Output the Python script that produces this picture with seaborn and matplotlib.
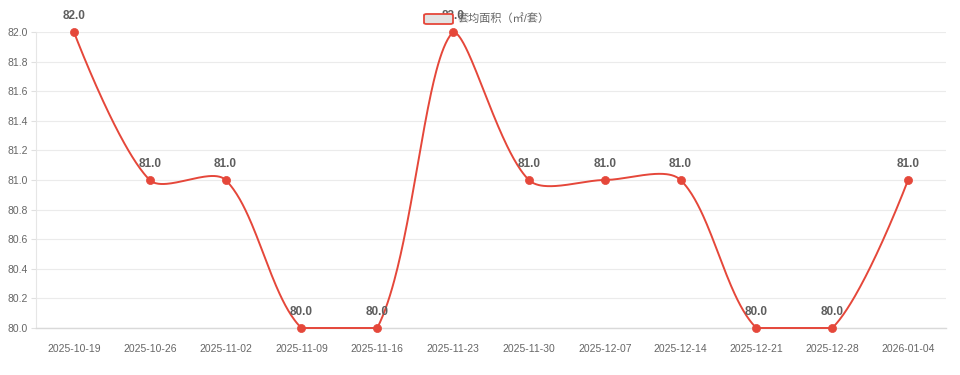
import numpy as np
import pandas as pd
import matplotlib
matplotlib.use("Agg")
import matplotlib.pyplot as plt
from matplotlib.patches import FancyBboxPatch
import seaborn as sns

dates = ["2025-10-19", "2025-10-26", "2025-11-02", "2025-11-09", "2025-11-16", "2025-11-23",
         "2025-11-30", "2025-12-07", "2025-12-14", "2025-12-21", "2025-12-28", "2026-01-04"]
values = [82.0, 81.0, 81.0, 80.0, 80.0, 82.0, 81.0, 81.0, 81.0, 80.0, 80.0, 81.0]
series_name = "套均面积（㎡/套）"
y_ticks = [80.0, 80.2, 80.4, 80.6, 80.8, 81.0, 81.2, 81.4, 81.6, 81.8, 82.0]

RED = "#e5473a"
GRAY = "#666666"

sns.set_theme(style="white")
plt.rcParams['font.family'] = ['Liberation Sans', 'Noto Sans CJK SC', 'DejaVu Sans']

W, H = 960, 375
fig = plt.figure(figsize=(W / 100, H / 100), dpi=100)
L, R, T, B = 36, 946, 32, 328
ax = fig.add_axes([L / W, 1 - B / H, (R - L) / W, (B - T) / H])

df = pd.DataFrame({"date": dates, "value": values})
n = len(dates)
ax.set_xlim(-0.5, n - 0.5)
ax.set_ylim(80.0, 82.0)


def smooth_bezier(px, py, smooth=0.3):
    """Bezier control points with a bounding-box constraint (pixel space)."""
    pts = np.column_stack([px, py]).astype(float)
    mn = pts.min(axis=0)
    mx = pts.max(axis=0)
    m = len(pts)
    cps = []
    for i in range(m):
        p = pts[i]
        if i == 0 or i == m - 1:
            cps.append(p.copy())
            continue
        prev = pts[i - 1]
        nxt = pts[i + 1]
        v = (nxt - prev) * smooth
        d0 = np.hypot(*(p - prev))
        d1 = np.hypot(*(p - nxt))
        s = d0 + d1
        if s != 0:
            d0 /= s
            d1 /= s
        cps.append(np.clip(p - v * d0, mn, mx))
        cps.append(np.clip(p + v * d1, mn, mx))
    xs, ys = [], []
    t = np.linspace(0, 1, 80)
    for i in range(m - 1):
        p0 = pts[i]
        a = cps[2 * i]
        b = cps[2 * i + 1]
        p1 = pts[i + 1]
        bx = (1 - t) ** 3 * p0[0] + 3 * (1 - t) ** 2 * t * a[0] + 3 * (1 - t) * t ** 2 * b[0] + t ** 3 * p1[0]
        by = (1 - t) ** 3 * p0[1] + 3 * (1 - t) ** 2 * t * a[1] + 3 * (1 - t) * t ** 2 * b[1] + t ** 3 * p1[1]
        xs.append(bx)
        ys.append(by)
    return np.concatenate(xs), np.concatenate(ys)


xpos = np.arange(n)
disp = ax.transData.transform(np.column_stack([xpos, values]))
sx, sy = smooth_bezier(disp[:, 0], disp[:, 1], 0.3)
back = ax.transData.inverted().transform(np.column_stack([sx, sy]))
ax.plot(back[:, 0], back[:, 1], color=RED, lw=1.4, zorder=3, solid_capstyle="round",
        clip_on=False)

sns.scatterplot(x=xpos, y=df["value"], ax=ax, color=RED, s=34, edgecolor=RED,
                linewidth=0.5, zorder=4, legend=False, clip_on=False)

for xi, v in zip(xpos, values):
    ax.annotate(f"{v:.1f}", (xi, v), xytext=(0, 7.5), textcoords="offset points",
                ha="center", va="bottom", fontsize=8.5, fontweight="bold", color="#5e5e5e", zorder=5)

ax.set_xticks(xpos)
ax.set_xticklabels(dates)
ax.set_yticks(y_ticks)
ax.set_yticklabels([f"{t:.1f}" for t in y_ticks])
ax.tick_params(axis="x", length=0, pad=11.5, labelsize=7.5, labelcolor=GRAY)
ax.tick_params(axis="y", length=3.6, width=0.8, color="#e0e0e0", pad=2.2, labelsize=7.5,
               labelcolor=GRAY, left=True)
ax.grid(axis="y", color="#ebebeb", lw=0.8)
ax.set_axisbelow(True)
for s in ["top", "right"]:
    ax.spines[s].set_visible(False)
ax.spines["left"].set_color("#e6e6e6")
ax.spines["left"].set_linewidth(0.8)
ax.spines["bottom"].set_color("#d9d9d9")
ax.spines["bottom"].set_linewidth(1.0)
ax.set_xlabel("")
ax.set_ylabel("")

# legend (ECharts style)
icon = FancyBboxPatch((424 / W, 1 - 24 / H), 29 / W, 10 / H,
                      boxstyle="round,pad=0,rounding_size=0.003",
                      transform=fig.transFigure, facecolor="#e3e3e3", edgecolor=RED, lw=1.3,
                      zorder=1)
fig.add_artist(icon)
fig.text(458 / W, 1 - 19 / H, series_name, ha="left", va="center", fontsize=8, color=GRAY)

fig.savefig("out.png", dpi=100, facecolor="white")
